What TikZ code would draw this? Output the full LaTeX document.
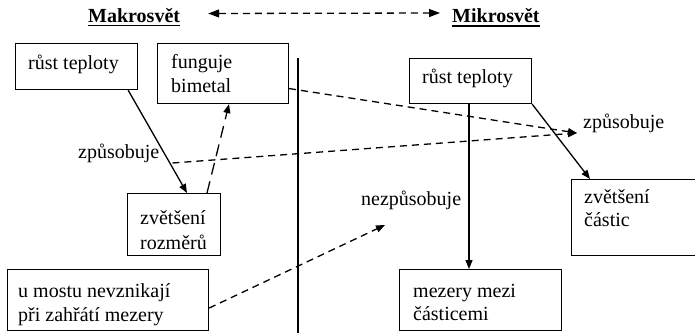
\documentclass[tikz,border=0pt]{standalone}
\usepackage{fontspec}
\setmainfont{Liberation Serif}
\usetikzlibrary{arrows.meta,calc}
\begin{document}
\begin{tikzpicture}[x=1pt,y=-1pt,
  box/.style={draw,line width=1.1pt,rectangle,inner sep=0pt,anchor=north west},
  txt/.style={inner sep=0pt,anchor=base west,font=\fontsize{20}{24}\selectfont},
  head/.style={inner sep=0pt,anchor=base west,font=\fontsize{20}{24}\selectfont\bfseries},
  ul/.style={line width=1.8pt},
  solidarr/.style={line width=1.3pt,-{Triangle[length=9pt,width=7pt]}},
  dasharr/.style={line width=1.3pt,dash pattern=on 7pt off 5pt,-{Triangle[length=9pt,width=7pt]}},
  longdash/.style={line width=1.3pt,dash pattern=on 12pt off 7pt,-{Triangle[length=9pt,width=7pt]}},
  toparr/.style={line width=1.3pt,dash pattern=on 7pt off 5pt,{Triangle[length=11pt,width=8pt]}-{Triangle[length=11pt,width=8pt]}}
]
\useasboundingbox (0,0) rectangle (695,332);
\begin{scope}
\clip (0,0) rectangle (695,332);

% headings
\node[head] (mak) at (88,22) {Makrosvět};
\node[head] (mik) at (452,22.5) {Mikrosvět};
\draw[ul] ([yshift=-3.5pt]mak.base west) -- ([yshift=-3.5pt]mak.base east);
\draw[ul] ([yshift=-3.5pt]mik.base west) -- ([yshift=-3.5pt]mik.base east);
\draw[toparr] ([xshift=28pt,yshift=8.5pt]mak.base east) -- ([xshift=-12pt,yshift=9.5pt]mik.base west);

% boxes
\node[box,minimum width=122pt,minimum height=46pt] (l1) at (15,43) {};
\node[box,minimum width=131pt,minimum height=60pt] (b) at (157,43) {};
\node[box,minimum width=122pt,minimum height=45pt] (r1) at (409,58) {};
\node[box,minimum width=93pt,minimum height=62pt] (zr) at (127,193) {};
\node[box,minimum width=201pt,minimum height=61pt] (um) at (7,269) {};
\node[box,minimum width=162pt,minimum height=61pt] (mz) at (399,269) {};
\node[box,minimum width=130pt,minimum height=76pt] (zc) at (571,179) {};

% texts in boxes
\node[txt] (l1t) at (28,69) {růst teploty};
\node[txt] (bt1) at (171,68) {funguje};
\node[txt] (bt2) at (171,92) {bimetal};
\node[txt] (r1t) at (422,83) {růst teploty};
\node[txt] (zrt1) at (140,224) {zvětšení};
\node[txt] (zrt2) at (140,249) {rozměrů};
\node[txt] (umt1) at (18,297) {u mostu nevznikají};
\node[txt] (umt2) at (18,321) {při zahřátí mezery};
\node[txt] (mzt1) at (413,297) {mezery mezi};
\node[txt] (mzt2) at (413,320) {částicemi};
\node[txt] (zct1) at (584,203) {zvětšení};
\node[txt] (zct2) at (584,226) {částic};

% free labels
\node[txt] (zp1) at (78,158) {způsobuje};
\node[txt] (zp2) at (583,128) {způsobuje};
\node[txt] (nez) at (361,205) {nezpůsobuje};

% divider
\coordinate (vt) at (298,58);
\coordinate (vb) at (298,334);
\draw[line width=2.6pt] (vt) -- (vb);

% connectors
\draw[solidarr] ([xshift=-10pt]l1.south east) -- ([xshift=60pt]zr.north west);
\draw[longdash] ([xshift=80pt]zr.north west) -- ([xshift=72pt]b.south west);
\draw[dasharr] ([xshift=13pt,yshift=-5pt]zp1.base east) -- ([xshift=-6pt,yshift=-5pt]zp2.base west);
\draw[dasharr] ([yshift=-15pt]b.east) -- ([xshift=-6pt,yshift=-5pt]zp2.base west);
\draw[dasharr] ([yshift=-8pt]um.east) -- ([xshift=24pt,yshift=-20pt]nez.base west);
\draw[solidarr] ([xshift=60pt]r1.south west) -- ([xshift=70pt]mz.north west);
\draw[solidarr] (r1.south east) -- ([xshift=19pt]zc.north west);
\end{scope}
\end{tikzpicture}
\end{document}
